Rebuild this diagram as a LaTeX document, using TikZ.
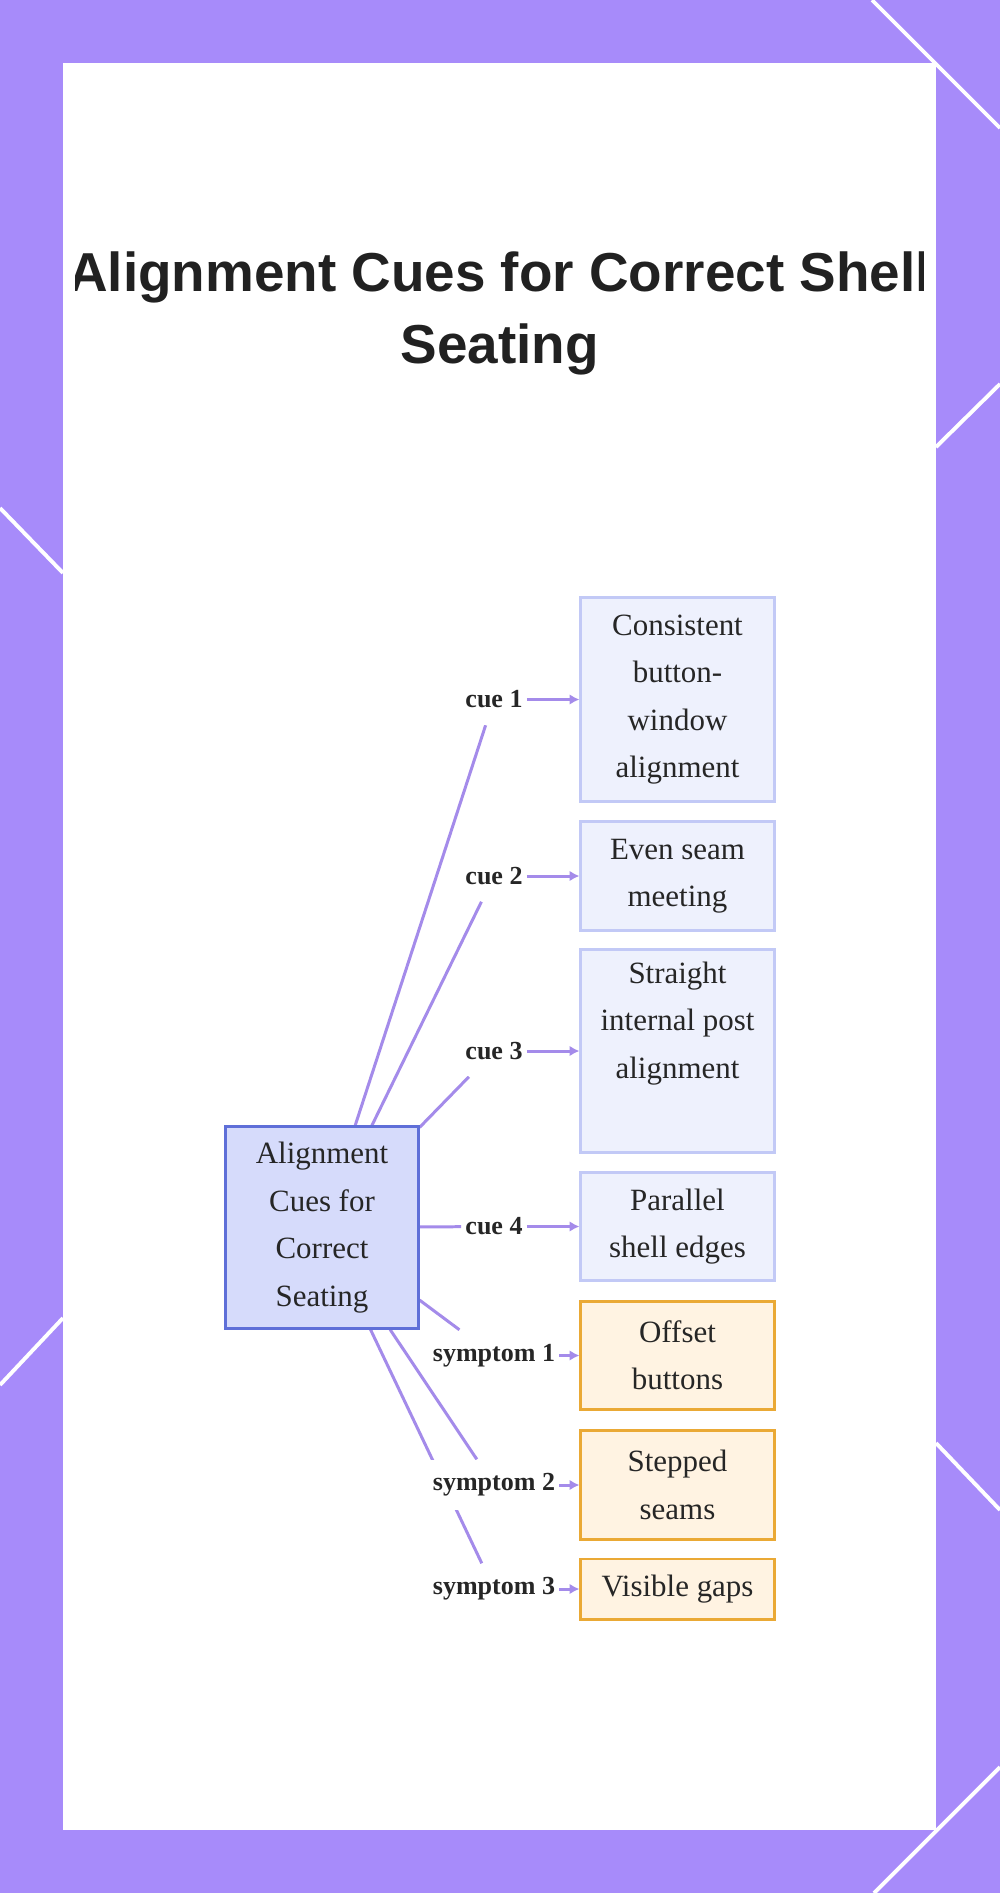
\documentclass[tikz,border=0pt]{standalone}
\usepackage{fontspec}
\setmainfont{Liberation Serif}
\newfontfamily\headfont{Liberation Sans}
\usepackage{xcolor}
\usetikzlibrary{arrows.meta,backgrounds}

\definecolor{bgviolet}{RGB}{167,139,250}
\definecolor{mainfill}{RGB}{214,219,251}
\definecolor{mainline}{RGB}{95,111,216}
\definecolor{cuefill}{RGB}{238,241,253}
\definecolor{cueline}{RGB}{194,201,246}
\definecolor{symfill}{RGB}{255,243,226}
\definecolor{symline}{RGB}{234,169,53}
\definecolor{edgeline}{RGB}{164,139,234}

\begin{document}
\begin{tikzpicture}[x=0.01cm,y=-0.01cm,>=Latex,
  box/.style={draw,line width=0.85pt,align=center,inner sep=0pt,minimum width=1.93cm,font=\fontsize{8.8}{13.5}\selectfont,text=black!85},
  cuebox/.style={box,draw=cueline,fill=cuefill},
  symbox/.style={box,draw=symline,fill=symfill},
  tag/.style={fill=white,inner xsep=1pt,inner ysep=0pt,minimum height=0.5cm,font=\fontsize{7.4}{9}\selectfont\bfseries,text=black!85},
  link/.style={draw=edgeline,line width=0.85pt},
  arrow/.style={link,-{Latex[length=2.8pt,width=3pt]}},
  deco/.style={white,line width=1.1pt}
]
\useasboundingbox (0,0) rectangle (1000,1893);
\begin{scope}[on background layer]
  \fill[bgviolet] (0,0) rectangle (1000,1893);
  \draw[deco] (872,0) -- (1000,128);
  \draw[deco] (0,508) -- (63,573);
  \draw[deco] (0,1385) -- (63,1318);
  \draw[deco] (936,447) -- (1000,384);
  \draw[deco] (936,1443) -- (1000,1510);
  \draw[deco] (874,1893) -- (1000,1767);
  \fill[white] (63,63) rectangle (936,1830);
\end{scope}

% title, cut at the sides
\begin{scope}
  \clip (75,63) rectangle (923,420);
  \node[anchor=base,align=center,inner sep=0pt,text=black!87,
    font=\headfont\bfseries\fontsize{15.6}{20.2}\selectfont] (title) at (499.5,363)
    {Alignment Cues for Correct Shell\\Seating};
\end{scope}

% nodes
\node[box,draw=mainline,fill=mainfill,minimum width=1.92cm,minimum height=2.01cm] (main) at (322,1227.5) {Alignment\\Cues for\\Correct\\Seating};
\node[cuebox,minimum height=2.03cm] (c1) at (677.5,699.5) {Consistent\\button-\\window\\alignment};
\node[cuebox,minimum height=1.08cm] (c2) at (677.5,876) {Even seam\\meeting};
\node[cuebox,minimum height=2.02cm] (c3) at (677.5,1051) {Straight\\internal post\\alignment\\\strut};
\node[cuebox,minimum height=1.07cm] (c4) at (677.5,1226.5) {Parallel\\shell edges};
\node[symbox,minimum height=1.07cm] (s1) at (677.5,1355.5) {Offset\\buttons};
\node[symbox,minimum height=1.08cm] (s2) at (677.5,1485) {Stepped\\seams};
\node[symbox,minimum height=0.60cm] (s3) at (677.5,1589) {Visible gaps};

% edge labels
\node[tag] (lc1) at (494,699.5) {cue 1};
\node[tag] (lc2) at (494,876) {cue 2};
\node[tag] (lc3) at (494,1051) {cue 3};
\node[tag] (lc4) at (494,1226.5) {cue 4};
\node[tag] (ls1) at (494,1355.5) {symptom 1};
\node[tag] (ls2) at (494,1485) {symptom 2};
\node[tag] (ls3) at (494,1589) {symptom 3};

\begin{scope}[on background layer]
  \foreach \t in {lc1,lc2,lc3,lc4,ls1,ls2,ls3}
    \draw[link] (main) -- (\t);
\end{scope}
\draw[arrow] (lc1) -- (c1);
\draw[arrow] (lc2) -- (c2);
\draw[arrow] (lc3) -- (c3);
\draw[arrow] (lc4) -- (c4);
\draw[arrow] (ls1) -- (s1);
\draw[arrow] (ls2) -- (s2);
\draw[arrow] (ls3) -- (s3);
\end{tikzpicture}
\end{document}
